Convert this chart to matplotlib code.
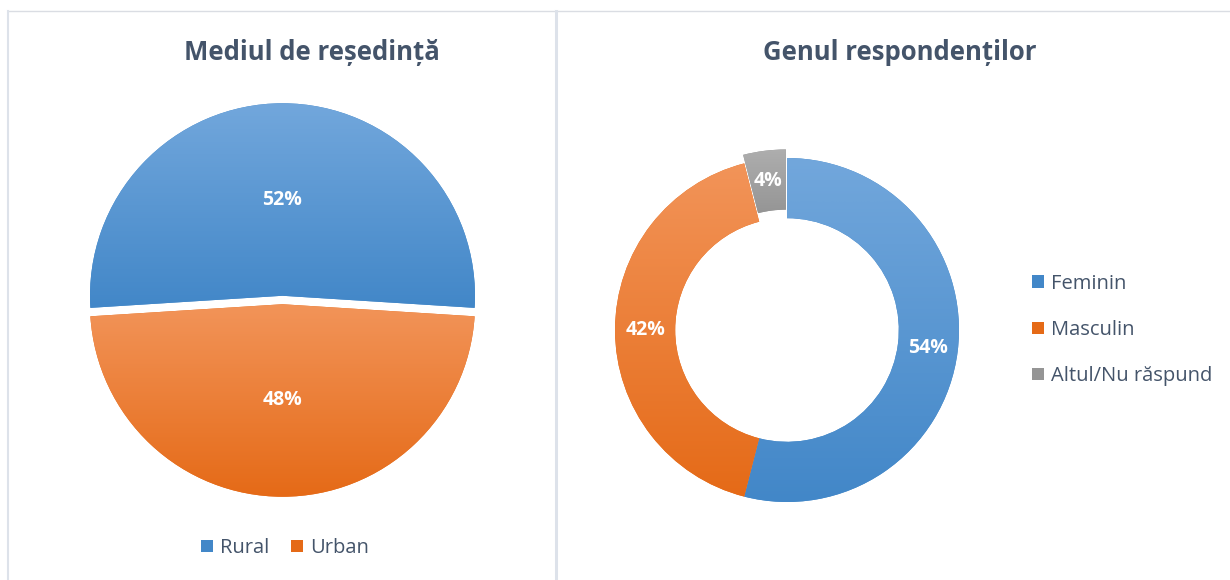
import numpy as np
import matplotlib
matplotlib.use("Agg")
import matplotlib.pyplot as plt
from matplotlib.lines import Line2D
from matplotlib.patches import Patch
from matplotlib.colors import LinearSegmentedColormap

plt.rcParams['font.family'] = ['Open Sans', 'DejaVu Sans']

# ---- data ----
res_labels = ["Rural", "Urban"]
res_values = [52, 48]
res_title = "Mediul de reședință"

gen_labels = ["Feminin", "Masculin", "Altul/Nu răspund"]
gen_values = [54, 42, 4]
gen_title = "Genul respondenților"

# ---- style ----
TXT = "#44546A"
grad = {
    "blue": ("#72A7DC", "#4287C8"),
    "orange": ("#F29459", "#E56A17"),
    "gray": ("#AEAEAE", "#959595"),
}
res_cols = ["blue", "orange"]
gen_cols = ["blue", "orange", "gray"]

W, H = 1230, 580
fig = plt.figure(figsize=(W / 100, H / 100), dpi=100)
fig.patch.set_facecolor("white")


def px_axes(cx, cy, r, lim=1.2):
    size = 2 * r * lim
    return fig.add_axes([(cx - size / 2) / W, (H - cy - size / 2) / H, size / W, size / H])


def gradient_fill(ax, wedge, key):
    top, bot = grad[key]
    cmap = LinearSegmentedColormap.from_list("g", [bot, top])
    ext = wedge.get_path().get_extents()
    arr = np.linspace(1, 0, 256).reshape(-1, 1)
    im = ax.imshow(arr, cmap=cmap, extent=(ext.x0, ext.x1, ext.y0, ext.y1),
                   aspect="auto", origin="upper", zorder=wedge.get_zorder() + 0.1,
                   interpolation="bicubic")
    im.set_clip_path(wedge)


# ---- left: pie ----
ax1 = px_axes(282.5, 300, 192.5)
start1 = 90 - res_values[0] / 100 * 360 / 2
wedges1, _, pct1 = ax1.pie(res_values, startangle=start1, counterclock=True,
                           explode=[0.022, 0.022], autopct="%1.0f%%", pctdistance=0.5,
                           colors=[grad[k][1] for k in res_cols],
                           wedgeprops=dict(linewidth=0))
for w, k in zip(wedges1, res_cols):
    gradient_fill(ax1, w, k)
for t in pct1:
    t.set_color("white"); t.set_fontweight("bold"); t.set_fontsize(14); t.set_zorder(10)
ax1.set_xlim(-1.2, 1.2); ax1.set_ylim(-1.2, 1.2); ax1.set_aspect("equal"); ax1.axis("off")

# ---- right: donut ----
ax2 = px_axes(787, 330, 172)
wedges2, _, pct2 = ax2.pie(gen_values, startangle=90, counterclock=False,
                           explode=[0, 0, 0.05], autopct="%1.0f%%", pctdistance=0.825,
                           colors=[grad[k][1] for k in gen_cols],
                           wedgeprops=dict(width=0.35, linewidth=0))
for w, k in zip(wedges2, gen_cols):
    gradient_fill(ax2, w, k)
for t in pct2:
    t.set_color("white"); t.set_fontweight("bold"); t.set_fontsize(14); t.set_zorder(10)
ax2.set_xlim(-1.2, 1.2); ax2.set_ylim(-1.2, 1.2); ax2.set_aspect("equal"); ax2.axis("off")

# ---- titles ----
fig.text(312 / W, 1 - 53 / H, res_title, ha="center", va="center",
         fontsize=18.5, fontweight="bold", color=TXT)
fig.text(900 / W, 1 - 53 / H, gen_title, ha="center", va="center",
         fontsize=18.5, fontweight="bold", color=TXT)

# ---- legends ----
h1 = [Patch(facecolor=grad[k][1], edgecolor="none") for k in res_cols]
fig.legend(h1, res_labels, loc="center", bbox_to_anchor=(285 / W, 1 - 548 / H),
           ncol=2, frameon=False, fontsize=14.5, labelcolor=TXT,
           handlelength=0.6, handleheight=0.6, handletextpad=0.35, columnspacing=1.1)
h2 = [Patch(facecolor=grad[k][1], edgecolor="none") for k in gen_cols]
fig.legend(h2, gen_labels, loc="center left", bbox_to_anchor=(1014 / W, 1 - 330 / H),
           ncol=1, frameon=False, fontsize=14.5, labelcolor=TXT,
           handlelength=0.6, handleheight=0.6, handletextpad=0.35, labelspacing=1.3)

# ---- panel borders ----
fig.add_artist(Line2D([8 / W, 1], [1 - 11 / H, 1 - 11 / H], color="#DADDE3", lw=1))
fig.add_artist(Line2D([8 / W, 8 / W], [0, 1 - 11 / H], color="#DDE2EA", lw=1.5))
fig.add_artist(Line2D([556 / W, 556 / W], [0, 1 - 11 / H], color="#DDE2EA", lw=2.2))

fig.savefig("out.png", dpi=100, facecolor="white")
